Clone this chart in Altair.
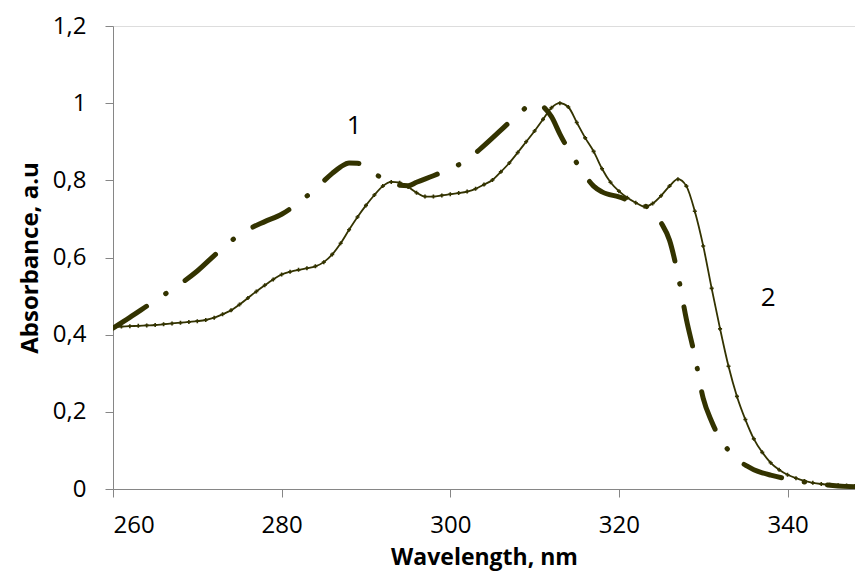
import altair as alt
import pandas as pd

# Curve 1 (dash-dot)
wl1 = [260, 262, 264, 266, 268, 270, 272, 274, 276, 278, 280, 282, 284, 286, 287, 288, 289, 290,
       291, 292, 293, 294, 295, 296, 298, 300, 302, 304, 306, 308, 310, 312, 313, 314, 315, 316,
       317, 318, 320, 322, 323, 324, 325, 326, 327, 328, 329, 330, 331, 332, 333, 334, 335, 336,
       337, 338, 340, 342, 344, 346, 348, 350]
ab1 = [0.417, 0.445, 0.474, 0.503, 0.532, 0.565, 0.605, 0.643, 0.672, 0.693, 0.712, 0.742, 0.778,
       0.818, 0.835, 0.845, 0.844, 0.836, 0.818, 0.805, 0.795, 0.787, 0.786, 0.795, 0.812, 0.830,
       0.853, 0.890, 0.930, 0.970, 1.000, 0.965, 0.920, 0.880, 0.845, 0.812, 0.785, 0.770, 0.757,
       0.742, 0.735, 0.720, 0.690, 0.645, 0.555, 0.440, 0.345, 0.235, 0.175, 0.130, 0.100, 0.075,
       0.062, 0.050, 0.042, 0.036, 0.026, 0.018, 0.012, 0.008, 0.006, 0.005]

# Curve 2 (thin line with markers)
wl2 = list(range(260, 351))
ab2 = [0.420, 0.421, 0.422, 0.423, 0.424, 0.425, 0.427, 0.429, 0.431, 0.433,
       0.435, 0.438, 0.444, 0.453, 0.463, 0.478, 0.495, 0.512, 0.528, 0.543,
       0.556, 0.563, 0.568, 0.572, 0.577, 0.588, 0.608, 0.637, 0.672, 0.705,
       0.735, 0.762, 0.785, 0.796, 0.794, 0.783, 0.768, 0.758, 0.758, 0.761,
       0.764, 0.767, 0.771, 0.778, 0.789, 0.801, 0.822, 0.845, 0.872, 0.900,
       0.928, 0.958, 0.988, 1.000, 0.990, 0.950, 0.910, 0.875, 0.830, 0.795,
       0.772, 0.755, 0.742, 0.732, 0.740, 0.760, 0.785, 0.803, 0.785, 0.720,
       0.630, 0.520, 0.415, 0.318, 0.240, 0.180, 0.130, 0.095, 0.068, 0.050,
       0.037, 0.028, 0.021, 0.016, 0.013, 0.011, 0.010, 0.009, 0.008, 0.008,
       0.007]

label_text = ["1", "2"]
label_x = [288.6, 337.7]
label_y = [0.94, 0.495]

COLOR = "#333300"
FONT = "Open Sans"

df1 = pd.DataFrame({"wl": wl1, "ab": ab1})
df2 = pd.DataFrame({"wl": wl2, "ab": ab2})
dfl = pd.DataFrame({"wl": label_x, "ab": label_y, "t": label_text})

xs = alt.Scale(domain=[260, 348], nice=False, zero=False)
ys = alt.Scale(domain=[0, 1.2], nice=False)

xax = alt.Axis(values=[260, 280, 300, 320, 340], title="Wavelength, nm", grid=False,
               domainColor="#868686", tickColor="#868686", tickSize=8, labelPadding=16,
               labelFontSize=24, labelFont=FONT, labelColor="#000000",
               titleFontSize=23, titleFont=FONT, titleFontWeight="bold", titleColor="#000000",
               titleBaseline="alphabetic", titleY=75)
yax = alt.Axis(values=[0, 0.2, 0.4, 0.6, 0.8, 1.0, 1.2], title="Absorbance, a.u", grid=False,
               format="~g", labelExpr="replace(datum.label, '.', ',')",
               domainColor="#868686", tickColor="#868686", tickSize=8, labelPadding=19,
               labelFontSize=24, labelFont=FONT, labelColor="#000000",
               titleFontSize=24, titleFont=FONT, titleFontWeight="bold", titleColor="#000000",
               titlePadding=10)

c1 = alt.Chart(df1).mark_line(color=COLOR, strokeWidth=5, strokeDash=[40, 23, 0.5, 23],
                              strokeCap="round", interpolate="monotone", clip=True).encode(
    x=alt.X("wl:Q", scale=xs, axis=xax),
    y=alt.Y("ab:Q", scale=ys, axis=yax),
)
c2 = alt.Chart(df2).mark_line(color=COLOR, strokeWidth=1.8, interpolate="monotone", clip=True).encode(
    x=alt.X("wl:Q", scale=xs),
    y=alt.Y("ab:Q", scale=ys),
)
p2 = alt.Chart(df2).mark_point(color=COLOR, filled=True, shape="cross", size=16, opacity=1, clip=True).encode(
    x=alt.X("wl:Q", scale=xs),
    y=alt.Y("ab:Q", scale=ys),
)
lab = alt.Chart(dfl).mark_text(fontSize=26, font=FONT, color="#000000").encode(
    x=alt.X("wl:Q", scale=xs),
    y=alt.Y("ab:Q", scale=ys),
    text="t:N",
)

chart = alt.layer(c1, c2, p2, lab).properties(
    width=742, height=463,
    autosize=alt.AutoSizeParams(type="none"),
    padding={"left": 105, "top": 18, "right": 0, "bottom": 85},
).configure_view(stroke=None).configure(background="#ffffff")

chart.save("out.html", embed_options={"renderer": "svg", "actions": False})
